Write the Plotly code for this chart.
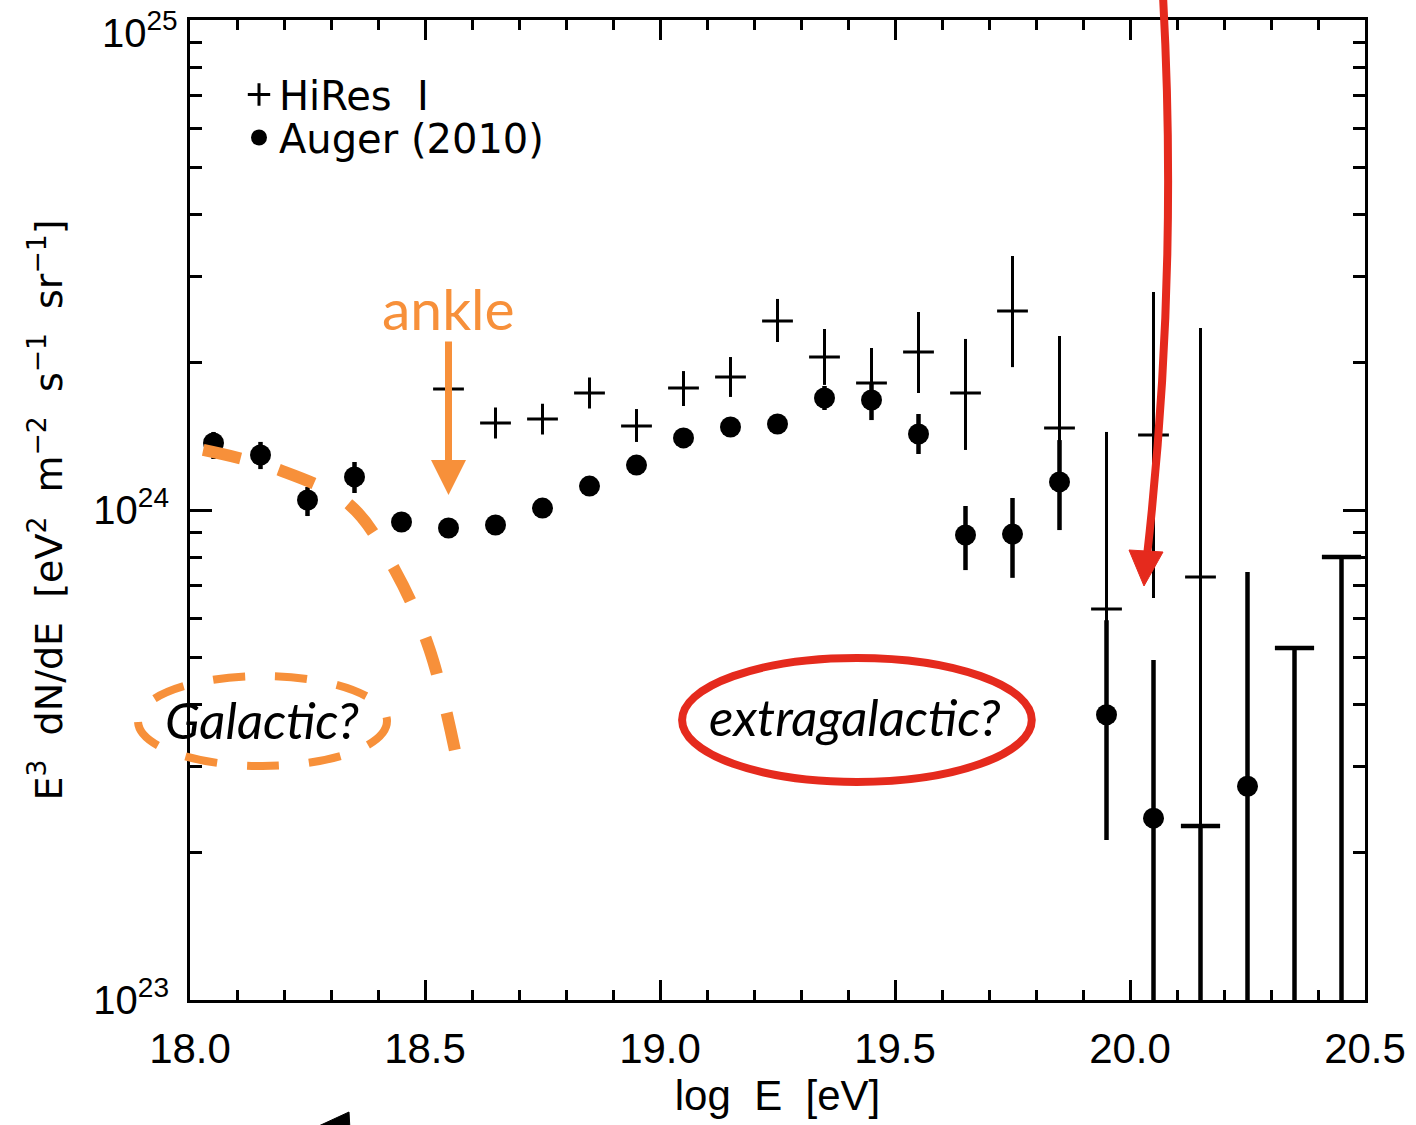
import numpy as np
import plotly.graph_objects as go

SCALE = 1e24  # flux values below are in units of 1e24 eV^2 m^-2 s^-1 sr^-1

# ---------------- Auger (2010) ----------------
auger_logE = [18.05, 18.15, 18.25, 18.35, 18.45, 18.55, 18.65, 18.75, 18.85, 18.95,
              19.05, 19.15, 19.25, 19.35, 19.45, 19.55, 19.65, 19.75, 19.85, 19.95,
              20.05, 20.25]
auger_flux = [1.370, 1.295, 1.048, 1.168, 0.945, 0.919, 0.932, 1.009, 1.119, 1.235,
              1.403, 1.477, 1.498, 1.693, 1.677, 1.429, 0.889, 0.893, 1.141, 0.382,
              0.235, 0.273]
auger_hi = [1.443, 1.377, 1.114, 1.253, 0.945, 0.919, 0.932, 1.009, 1.119, 1.235,
            1.403, 1.477, 1.498, 1.791, 1.808, 1.570, 1.019, 1.058, 1.389, 0.596,
            0.494, 0.747]
auger_lo = [1.271, 1.212, 0.972, 1.083, 0.945, 0.919, 0.932, 1.009, 1.119, 1.235,
            1.403, 1.477, 1.498, 1.600, 1.526, 1.301, 0.754, 0.727, 0.910, 0.212,
            0.001, 0.001]

# Auger upper limits
auger_ul_logE = [20.15, 20.35, 20.45]
auger_ul_flux = [0.2265, 0.523, 0.802]
auger_ul_lo = [0.001, 0.001, 0.001]

# ---------------- HiRes I ----------------
hires_logE = [18.55, 18.65, 18.75, 18.85, 18.95, 19.05, 19.15, 19.25, 19.35, 19.45,
              19.55, 19.65, 19.75, 19.85, 19.95, 20.05, 20.15]
hires_flux = [1.766, 1.505, 1.533, 1.733, 1.484, 1.774, 1.868, 2.431, 2.052, 1.816,
              2.101, 1.733, 2.547, 1.470, 0.628, 1.422, 0.730]
hires_hi = [1.766, 1.505, 1.533, 1.733, 1.607, 1.921, 2.052, 2.696, 2.341, 2.141,
            2.536, 2.234, 3.299, 2.265, 1.443, 2.786, 2.351]
hires_lo = [1.766, 1.505, 1.533, 1.733, 1.377, 1.630, 1.701, 2.202, 1.800, 1.600,
            1.733, 1.326, 1.957, 1.207, 0.518, 0.661, 0.2265]

# ---------------- "Galactic" sketch curve ----------------
galactic_logE = [18.028, 18.19, 18.34, 18.436, 18.51, 18.568]
galactic_flux = [1.326, 1.207, 1.024, 0.754, 0.518, 0.309]

# tick labels
x_ticks = [18.0, 18.5, 19.0, 19.5, 20.0, 20.5]
x_ticktext = ["18.0", "18.5", "19.0", "19.5", "20.0", "20.5"]
y_ticks = [1e23, 1e24, 1e25]
y_ticktext = ["10<sup>23</sup>", "10<sup>24</sup>", ""]
y_top_label = "10<sup>25</sup>"   # drawn separately so it is not cut at the page top

ORANGE = "#F7903A"
RED = "#E52A1D"
TICKFONT = "Liberation Sans"
TXTFONT = "Lato"
LEGFONT = "DejaVu Sans"


def sc(a):
    return [v * SCALE for v in a]


def err_up(y, hi):
    return [(h - v) * SCALE for v, h in zip(y, hi)]


def err_dn(y, lo):
    return [(v - l) * SCALE for v, l in zip(y, lo)]


fig = go.Figure()

fig.add_trace(go.Scatter(
    x=hires_logE, y=sc(hires_flux), mode="markers", name="HiRes  I", legend="legend",
    marker=dict(symbol="cross-thin", size=22, color="black",
                line=dict(width=3, color="black")),
    error_y=dict(type="data", symmetric=False, array=err_up(hires_flux, hires_hi),
                 arrayminus=err_dn(hires_flux, hires_lo), thickness=3, width=0,
                 color="black"),
))

fig.add_trace(go.Scatter(
    x=auger_logE, y=sc(auger_flux), mode="markers", name="Auger (2010)", legend="legend2",
    marker=dict(symbol="circle", size=21, color="black"),
    error_y=dict(type="data", symmetric=False, array=err_up(auger_flux, auger_hi),
                 arrayminus=err_dn(auger_flux, auger_lo), thickness=4.5, width=0,
                 color="black"),
))

fig.add_trace(go.Scatter(
    x=auger_ul_logE, y=sc(auger_ul_flux), mode="markers", showlegend=False,
    marker=dict(symbol="line-ew", size=28, color="black",
                line=dict(width=4.5, color="black")),
    error_y=dict(type="data", symmetric=False, array=[0, 0, 0],
                 arrayminus=err_dn(auger_ul_flux, auger_ul_lo), thickness=4.5,
                 width=0, color="black"),
))

fig.add_trace(go.Scatter(
    x=galactic_logE, y=sc(galactic_flux), mode="lines", showlegend=False,
    line=dict(color=ORANGE, width=12, dash="38px,40px", shape="spline"),
    hoverinfo="skip",
))

# ---- helpers for decoration placement (paper fractions from pixel positions) ----
L, R, T, B = 190, 51, 20, 125
W, H = 1416, 1125
PW, PH = W - L - R, H - T - B


def px(x):
    return (x - L) / PW


def py(y):
    return (H - B - y) / PH


shapes = []
# orange dashed ellipse around "Galactic?"
shapes.append(dict(type="circle", xref="paper", yref="paper",
                   x0=px(138), x1=px(387), y0=py(766), y1=py(676),
                   line=dict(color=ORANGE, width=8, dash="32px,30px")))
# red ellipse around "extragalactic?"
shapes.append(dict(type="circle", xref="x", yref="y",
                   x0=19.047, x1=19.791, y0=0.2786 * SCALE, y1=0.4989 * SCALE,
                   line=dict(color=RED, width=8)))
# red curved arrow (shaft + head)
shapes.append(dict(type="path", xref="paper", yref="paper",
                   path=f"M {px(1163)},{py(-4)} Q {px(1178.5)},{py(277)} {px(1147)},{py(556)}",
                   line=dict(color=RED, width=8)))
shapes.append(dict(type="path", xref="paper", yref="paper",
                   path=f"M {px(1129)},{py(550)} L {px(1163)},{py(552)} L {px(1144)},{py(586)} Z",
                   fillcolor=RED, line=dict(color=RED, width=1)))
# black arrow head peeking in at the bottom edge
shapes.append(dict(type="path", xref="paper", yref="paper",
                   path=f"M {px(349)},{py(1112)} L {px(310)},{py(1130)} L {px(350)},{py(1130)} Z",
                   fillcolor="black", line=dict(color="black", width=1)))

annotations = []
# ankle arrow
annotations.append(dict(x=18.55, y=np.log10(1.073 * SCALE), xref="x", yref="y",
                        text="", showarrow=True, ax=0, ay=-155, arrowcolor=ORANGE,
                        arrowwidth=7, arrowhead=2, arrowsize=1.0, standoff=0))
annotations.append(dict(x=18.55, y=np.log10(2.58 * SCALE), xref="x", yref="y",
                        text="ankle", showarrow=False,
                        font=dict(family=TXTFONT, size=57, color=ORANGE)))
annotations.append(dict(x=18.153, y=np.log10(0.373 * SCALE), xref="x", yref="y",
                        text="<i>Galactic?</i>", showarrow=False,
                        font=dict(family=TXTFONT, size=51, color="black")))
annotations.append(dict(x=19.415, y=np.log10(0.379 * SCALE), xref="x", yref="y",
                        text="<i>extragalactic?</i>", showarrow=False,
                        font=dict(family=TXTFONT, size=51, color="black")))
# top y tick label (placed like the reference, just under the page edge)
annotations.append(dict(x=px(180), y=py(30), xref="paper", yref="paper",
                        xanchor="right", yanchor="middle", text=y_top_label,
                        showarrow=False,
                        font=dict(family=TICKFONT, size=40, color="black")))

minor_y = [k * 10.0 ** p for p in (23, 24) for k in range(2, 10)]

leg_common = dict(xanchor="left", yanchor="top", bgcolor="rgba(0,0,0,0)",
                  font=dict(family=LEGFONT, size=40, color="black"),
                  itemwidth=30, borderwidth=0)

fig.update_layout(
    width=W, height=H,
    margin=dict(l=L, r=R, t=T, b=B, autoexpand=False),
    paper_bgcolor="white", plot_bgcolor="white",
    showlegend=True,
    legend=dict(x=px(239), y=py(62), **leg_common),
    legend2=dict(x=px(239), y=py(105), **leg_common),
    shapes=shapes,
    annotations=annotations,
    xaxis=dict(
        range=[18.0, 20.5], tickmode="array", tickvals=x_ticks, ticktext=x_ticktext,
        ticks="inside", ticklen=20, tickwidth=2.5, tickcolor="black",
        showline=True, linewidth=3, linecolor="black", mirror="allticks",
        showgrid=False, zeroline=False,
        tickfont=dict(family=TICKFONT, size=42, color="black"),
        ticklabelstandoff=10,
        minor=dict(dtick=0.1, ticks="inside", ticklen=10, tickwidth=2.5,
                   tickcolor="black", showgrid=False),
        title=dict(text="log  E  [eV]", font=dict(family=TICKFONT, size=42, color="black"),
                   standoff=6),
    ),
    yaxis=dict(
        type="log", range=[23, 25], tickmode="array", tickvals=y_ticks, ticktext=y_ticktext,
        ticks="inside", ticklen=22, tickwidth=2.5, tickcolor="black",
        showline=True, linewidth=3, linecolor="black", mirror="allticks",
        showgrid=False, zeroline=False,
        tickfont=dict(family=TICKFONT, size=40, color="black"),
        ticklabelstandoff=10,
        minor=dict(tickmode="array", tickvals=minor_y, ticks="inside", ticklen=12,
                   tickwidth=2.5, tickcolor="black", showgrid=False),
        title=dict(text="E<sup>3</sup>  dN/dE  [eV<sup>2</sup>  m<sup>−2</sup>  s<sup>−1</sup>  sr<sup>−1</sup>]",
                   font=dict(family="DejaVu Sans", size=38, color="black"), standoff=20),
    ),
)

fig.write_html("out.html")
